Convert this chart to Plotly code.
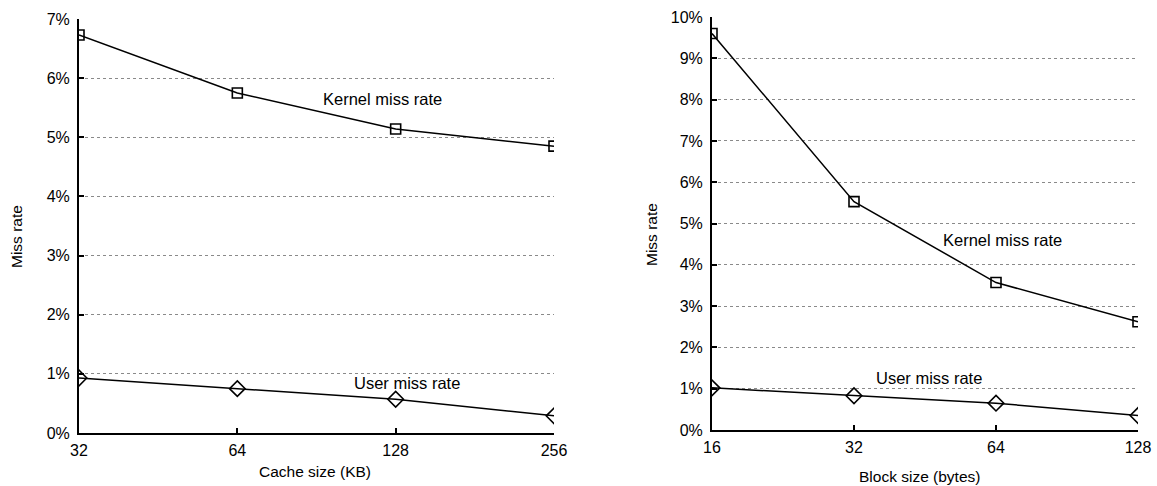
import math
import plotly.graph_objects as go

# ---- data ----
cache_size_kb = [32, 64, 128, 256]
kernel_cache = [6.73, 5.75, 5.14, 4.85]
user_cache = [0.93, 0.75, 0.57, 0.29]

block_size_bytes = [16, 32, 64, 128]
kernel_block = [9.6, 5.53, 3.57, 2.62]
user_block = [1.02, 0.83, 0.65, 0.35]

left_y_ticks = [0, 1, 2, 3, 4, 5, 6, 7]
right_y_ticks = [0, 1, 2, 3, 4, 5, 6, 7, 8, 9, 10]

W, H = 1157, 486
FONT = "Liberation Sans, Arial, Helvetica, sans-serif"

fig = go.Figure()

line_style = dict(color="black", width=1.5)
sq = dict(symbol="square-open", size=10, color="black", line=dict(width=1.6))
dm = dict(symbol="diamond-open", size=12, color="black", line=dict(width=1.6))

fig.add_trace(go.Scatter(x=cache_size_kb, y=kernel_cache, mode="lines+markers",
                         line=line_style, marker=sq, xaxis="x", yaxis="y",
                         name="Kernel miss rate"))
fig.add_trace(go.Scatter(x=cache_size_kb, y=user_cache, mode="lines+markers",
                         line=line_style, marker=dm, xaxis="x", yaxis="y",
                         name="User miss rate"))
fig.add_trace(go.Scatter(x=block_size_bytes, y=kernel_block, mode="lines+markers",
                         line=line_style, marker=sq, xaxis="x2", yaxis="y2",
                         name="Kernel miss rate"))
fig.add_trace(go.Scatter(x=block_size_bytes, y=user_block, mode="lines+markers",
                         line=line_style, marker=dm, xaxis="x2", yaxis="y2",
                         name="User miss rate"))

def xaxis(domain, vals, anchor):
    return dict(domain=domain, anchor=anchor, type="log", automargin=False,
                range=[math.log10(vals[0]), math.log10(vals[-1])],
                tickmode="array", tickvals=vals, ticktext=[str(v) for v in vals],
                showgrid=False, zeroline=False,
                showline=True, linecolor="black", linewidth=2,
                ticks="inside", ticklen=5, tickwidth=1.5, tickcolor="black",
                ticklabelstandoff=2,
                tickfont=dict(family=FONT, size=16, color="black"))

def yaxis(domain, anchor, ticks):
    return dict(domain=domain, anchor=anchor, range=[0, ticks[-1]], automargin=False,
                tickmode="array", tickvals=ticks, ticktext=[f"{v}%" for v in ticks],
                showgrid=True, gridcolor="#8a8a8a", gridwidth=1, griddash="dot",
                zeroline=False,
                showline=True, linecolor="black", linewidth=2,
                ticks="inside", ticklen=5, tickwidth=1.5, tickcolor="black",
                ticklabelstandoff=4,
                tickfont=dict(family=FONT, size=16, color="black"))

fig.update_layout(
    width=W, height=H, autosize=False,
    margin=dict(l=0, r=0, t=0, b=0, pad=0),
    paper_bgcolor="white", plot_bgcolor="white",
    showlegend=False,
    font=dict(family=FONT, color="black"),
    xaxis=xaxis([79 / W, 554 / W], cache_size_kb, "y"),
    yaxis=yaxis([1 - 433 / H, 1 - 19 / H], "x", left_y_ticks),
    xaxis2=xaxis([712 / W, 1138 / W], block_size_bytes, "y2"),
    yaxis2=yaxis([1 - 430 / H, 1 - 17 / H], "x2", right_y_ticks),
)

ann_font = dict(family=FONT, size=16.5, color="black")
title_font = dict(family=FONT, size=15.5, color="black")
C = dict(showarrow=False, xanchor="center", yanchor="middle")
annotations = [
    dict(text="Kernel miss rate", xref="x", yref="y", x=2.083, y=5.64, font=ann_font, **C),
    dict(text="User miss rate", xref="x", yref="y", x=2.128, y=0.85, font=ann_font, **C),
    dict(text="Kernel miss rate", xref="x2", yref="y2", x=1.821, y=4.6, font=ann_font, **C),
    dict(text="User miss rate", xref="x2", yref="y2", x=1.665, y=1.26, font=ann_font, **C),
    dict(text="Cache size (KB)", xref="paper", yref="paper", x=315 / W, y=1 - 471 / H, font=title_font, **C),
    dict(text="Block size (bytes)", xref="paper", yref="paper", x=919 / W, y=1 - 476 / H, font=title_font, **C),
    dict(text="Miss rate", xref="paper", yref="paper", x=17 / W, y=1 - 237 / H, textangle=-90, font=title_font, **C),
    dict(text="Miss rate", xref="paper", yref="paper", x=651 / W, y=1 - 235 / H, textangle=-90, font=title_font, **C),
]
fig.update_layout(annotations=annotations)

fig.write_html("out.html")
